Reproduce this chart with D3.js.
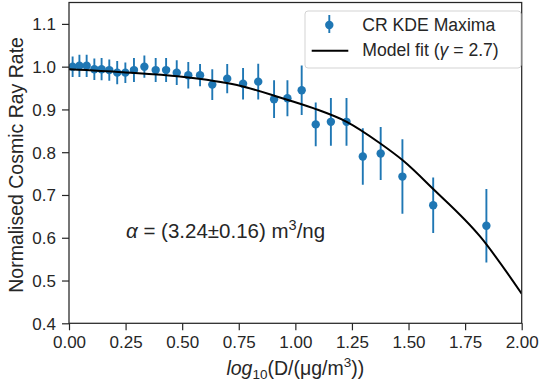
<!DOCTYPE html>
<html>
<head>
<meta charset="utf-8">
<title>Cosmic Ray Rate</title>
<style>
body { margin: 0; background: #fff; }
text { font-family: "Liberation Sans", Arial, sans-serif; fill: #262626; }
</style>
<script src="https://cdn.jsdelivr.net/npm/d3@7"></script>
</head>
<body>
<div id="chart"></div>
<script>
// measured points (log10 D, normalised rate, error)
var xs = [0.016, 0.046, 0.078, 0.112, 0.144, 0.178, 0.213, 0.249, 0.287, 0.333,
          0.383, 0.429, 0.476, 0.527, 0.579, 0.633, 0.699, 0.769, 0.836, 0.906,
          0.965, 1.028, 1.090, 1.157, 1.226, 1.298, 1.377, 1.473, 1.609, 1.844];
var rates = [1.000, 1.002, 1.002, 0.994, 0.994, 0.992, 0.986, 0.986, 0.992, 1.000,
             0.992, 0.992, 0.986, 0.980, 0.980, 0.958, 0.972, 0.960, 0.965, 0.924,
             0.926, 0.945, 0.865, 0.871, 0.871, 0.790, 0.797, 0.743, 0.676, 0.628];
var errs = [0.024, 0.026, 0.026, 0.025, 0.026, 0.025, 0.027, 0.024, 0.028, 0.026,
            0.028, 0.028, 0.029, 0.031, 0.026, 0.036, 0.034, 0.037, 0.042, 0.044,
            0.042, 0.058, 0.051, 0.056, 0.056, 0.066, 0.062, 0.087, 0.065, 0.086];

// model fit line
var fitX = [0, 0.239, 0.49, 0.742, 0.932, 1.079, 1.227, 1.374, 1.477, 1.609, 1.816, 2.0];
var fitY = [0.994, 0.987, 0.977, 0.957, 0.928, 0.903, 0.871, 0.821, 0.780, 0.714, 0.603, 0.469];

var xTicks = [0, 0.25, 0.5, 0.75, 1.0, 1.25, 1.5, 1.75, 2.0];
var yTicks = [0.4, 0.5, 0.6, 0.7, 0.8, 0.9, 1.0, 1.1];

var width = 540, height = 385;
var mLeft = 69, mRight = 521.7, mTop = 2.5, mBottom = 323.3;
var blue = "#1f77b4";
var tickFs = "17px", legFs = "17.6px", labFs = "19.5px";

var svg = d3.select("#chart").append("svg")
	.attr("width", width)
	.attr("height", height);

var x = d3.scaleLinear().domain([0, 2]).range([mLeft, mRight]);
var y = d3.scaleLinear().domain([0.4, 1.15]).range([mBottom, mTop]);

var xAxis = svg.append("g")
	.attr("transform", "translate(0," + mBottom + ")")
	.call(d3.axisBottom(x).tickValues(xTicks).tickFormat(d3.format(".2f")).tickSize(7).tickSizeOuter(0));
var yAxis = svg.append("g")
	.attr("transform", "translate(" + mLeft + ",0)")
	.call(d3.axisLeft(y).tickValues(yTicks).tickFormat(d3.format(".1f")).tickSize(7).tickSizeOuter(0));

[xAxis, yAxis].forEach(function (a) {
	a.select(".domain").remove();
	a.selectAll("line").attr("stroke", "#262626").attr("stroke-width", 1.2);
	a.selectAll("text").style("font-size", tickFs).style("font-family", "Liberation Sans, Arial, sans-serif").attr("fill", "#262626");
});
xAxis.selectAll("text").attr("y", 25).attr("dy", 0);
yAxis.selectAll("text").attr("x", -13).attr("dy", "0.35em");

// clip for marks
svg.append("clipPath").attr("id", "clip")
	.append("rect").attr("x", mLeft).attr("y", mTop).attr("width", mRight - mLeft).attr("height", mBottom - mTop);

var plot = svg.append("g").attr("clip-path", "url(#clip)");

var pts = xs.map(function (v, i) { return {x: v, y: rates[i], e: errs[i]}; });

plot.selectAll("line.err")
	.data(pts)
	.enter().append("line")
		.attr("class", "err")
		.attr("x1", function (d) { return x(d.x); })
		.attr("x2", function (d) { return x(d.x); })
		.attr("y1", function (d) { return y(d.y - d.e); })
		.attr("y2", function (d) { return y(d.y + d.e); })
		.attr("stroke", blue)
		.attr("stroke-width", 1.9);

plot.selectAll("circle.pt")
	.data(pts)
	.enter().append("circle")
		.attr("class", "pt")
		.attr("cx", function (d) { return x(d.x); })
		.attr("cy", function (d) { return y(d.y); })
		.attr("r", 4.2)
		.attr("fill", blue);

var fit = fitX.map(function (v, i) { return [v, fitY[i]]; });
plot.append("path")
	.datum(fit)
	.attr("fill", "none")
	.attr("stroke", "#000")
	.attr("stroke-width", 2)
	.attr("d", d3.line()
		.x(function (d) { return x(d[0]); })
		.y(function (d) { return y(d[1]); })
		.curve(d3.curveMonotoneX));

// frame
svg.append("rect")
	.attr("x", mLeft).attr("y", mTop)
	.attr("width", mRight - mLeft).attr("height", mBottom - mTop)
	.attr("fill", "none")
	.attr("stroke", "#262626")
	.attr("stroke-width", 1.25);

// legend
var lg = svg.append("g").attr("transform", "translate(305,11)");
lg.append("rect")
	.attr("width", 216).attr("height", 57)
	.attr("rx", 3)
	.attr("fill", "#fff").attr("fill-opacity", 0.8)
	.attr("stroke", "#d3d3d3");
lg.append("line").attr("x1", 24.3).attr("x2", 24.3).attr("y1", 4).attr("y2", 22)
	.attr("stroke", blue).attr("stroke-width", 1.9);
lg.append("circle").attr("cx", 24.3).attr("cy", 14).attr("r", 4.2).attr("fill", blue);
lg.append("text").attr("x", 57.3).attr("y", 19.5).style("font-size", legFs).text("CR KDE Maxima");
lg.append("line").attr("x1", 6.7).attr("x2", 43.3).attr("y1", 39.7).attr("y2", 39.7)
	.attr("stroke", "#000").attr("stroke-width", 2);
var t2 = lg.append("text").attr("x", 57.3).attr("y", 44.5).style("font-size", legFs);
t2.append("tspan").text("Model fit (");
t2.append("tspan").style("font-style", "italic").text("γ");
t2.append("tspan").text(" = 2.7)");

// annotation
var ann = svg.append("text").attr("x", 126).attr("y", 237.5).style("font-size", "20.5px");
ann.append("tspan").style("font-style", "italic").text("α");
ann.append("tspan").text(" = (3.24±0.16) m");
ann.append("tspan").attr("dy", -8).style("font-size", "14.5px").text("3");
ann.append("tspan").attr("dy", 8).text("/ng");

// axis labels
var xl = svg.append("text").attr("x", (mLeft + mRight) / 2).attr("y", 375)
	.attr("text-anchor", "middle").style("font-size", labFs);
xl.append("tspan").style("font-style", "italic").text("log");
xl.append("tspan").attr("dy", 4).style("font-size", "13.5px").text("10");
xl.append("tspan").attr("dy", -4).text("(D/(μg/m");
xl.append("tspan").attr("dy", -8).style("font-size", "13.5px").text("3");
xl.append("tspan").attr("dy", 8).text("))");

svg.append("text")
	.attr("transform", "translate(22.7," + ((mTop + mBottom) / 2 + 2) + ") rotate(-90)")
	.attr("text-anchor", "middle")
	.style("font-size", labFs)
	.text("Normalised Cosmic Ray Rate");
</script>
</body>
</html>
